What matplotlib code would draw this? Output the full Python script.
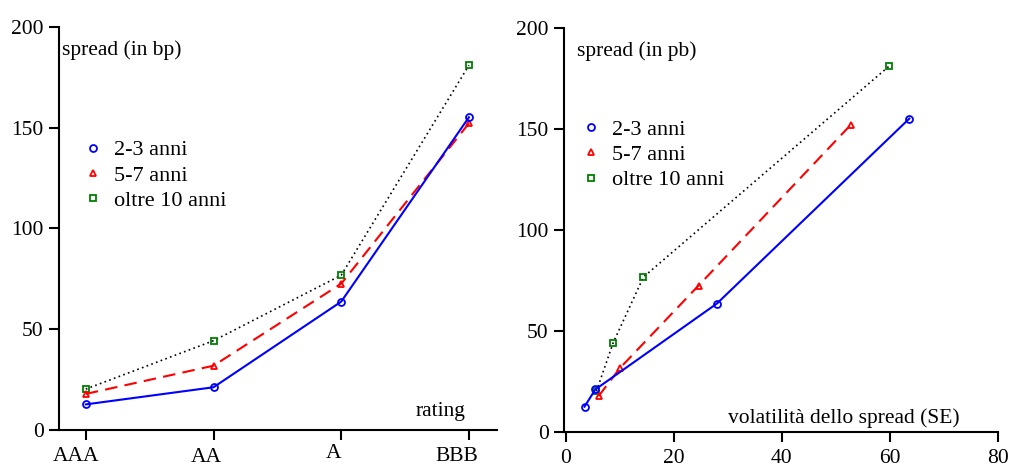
import matplotlib
matplotlib.use("Agg")
import matplotlib.pyplot as plt
from matplotlib.lines import Line2D
from matplotlib.transforms import ScaledTranslation

plt.rcParams["font.family"] = ["Liberation Serif", "DejaVu Serif"]

ratings = ["AAA", "AA", "A", "BBB"]
series_names = ["2-3 anni", "5-7 anni", "oltre 10 anni"]

# spread by rating (bp)
spread_23 = [12.7, 21.2, 63.7, 155.2]
spread_57 = [17.9, 31.9, 72.6, 152.2]
spread_10 = [20.3, 44.3, 76.8, 181.0]

# spread volatility (SE)
vol_23 = [3.5, 5.5, 28.0, 63.6]
vol_57 = [6.1, 10.1, 24.6, 52.8]
vol_10 = [5.7, 8.8, 14.4, 59.8]

BLUE, RED, GREEN = "#0000FF", "#FF0000", "#008000"
FS = 15.5
LEG_FS = 16

fig = plt.figure(figsize=(10.10, 4.66), dpi=100)
axL = fig.add_axes([0.0584, 0.0773, 0.4337, 0.8648])
axR = fig.add_axes([0.5584, 0.0723, 0.4297, 0.8676])

mk = dict(markersize=5, markeredgewidth=1.3, markerfacecolor="none")


def style(ax):
    for s in ("top", "right"):
        ax.spines[s].set_visible(False)
    for s in ("left", "bottom"):
        ax.spines[s].set_linewidth(1.5)
    ax.tick_params(axis="both", direction="out", length=7.5, width=1.5,
                   labelsize=FS)
    ax.tick_params(axis="y", pad=3.5)
    ax.tick_params(axis="x", pad=4.5)
    ax.set_ylim(0, 200)
    ax.set_yticks([0, 50, 100, 150, 200])


def legend(ax, x, y):
    handles = [
        Line2D([], [], ls="none", marker="o", color=BLUE, **mk),
        Line2D([], [], ls="none", marker="^", color=RED, **mk),
        Line2D([], [], ls="none", marker="s", color=GREEN, **mk),
    ]
    ax.legend(handles, series_names, loc="upper left", bbox_to_anchor=(x, y),
              frameon=False, fontsize=LEG_FS, handlelength=1.0,
              handletextpad=0.45, labelspacing=0.22, borderpad=0,
              borderaxespad=0)


# left panel: spread by rating
pos = range(len(ratings))
axL.plot(pos, spread_10, ls=(0, (1, 2)), color="black", lw=1.2)
axL.plot(pos, spread_10, ls="none", marker="s", color=GREEN, **mk)
axL.plot(pos, spread_57, ls=(0, (6, 3.5)), color=RED, lw=1.5, marker="^", **mk)
axL.plot(pos, spread_23, ls="-", color=BLUE, lw=1.5, marker="o", **mk)
style(axL)
axL.set_xlim(-0.21, 3.22)
axL.set_xticks(list(pos))
axL.set_xticklabels(ratings)
# labels sit a little left of their ticks, at uneven heights
for lbl, dx, dy in zip(axL.get_xticklabels(), [-10, -7, -8, -12], [0, -1, 3, 0]):
    lbl.set_transform(lbl.get_transform() +
                      ScaledTranslation(dx / 100, dy / 100, fig.dpi_scale_trans))
axL.text(0.007, 0.943, "spread (in bp)", transform=axL.transAxes,
         ha="left", va="center", fontsize=FS)
axL.text(0.927, 0.047, "rating", transform=axL.transAxes,
         ha="right", va="center", fontsize=FS)
legend(axL, 0.053, 0.72)

# right panel: spread vs volatility
axR.plot(vol_10, spread_10, ls=(0, (1, 2)), color="black", lw=1.2)
axR.plot(vol_10, spread_10, ls="none", marker="s", color=GREEN, **mk)
axR.plot(vol_57, spread_57, ls=(0, (6, 3.5)), color=RED, lw=1.5, marker="^", **mk)
axR.plot(vol_23, spread_23, ls="-", color=BLUE, lw=1.5, marker="o", **mk)
style(axR)
axR.set_xlim(-0.3, 80)
axR.set_xticks([0, 20, 40, 60, 80])
axR.text(0.029, 0.942, "spread (in pb)", transform=axR.transAxes,
         ha="left", va="center", fontsize=FS)
axR.text(0.912, 0.035, "volatilità dello spread (SE)", transform=axR.transAxes,
         ha="right", va="center", fontsize=FS)
legend(axR, 0.036, 0.775)

fig.savefig("out.png", dpi=100, facecolor="white")
